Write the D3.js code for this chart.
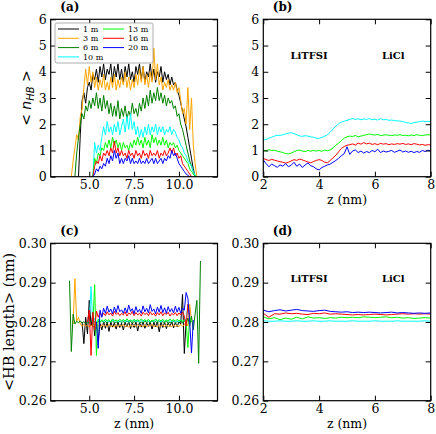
<!DOCTYPE html>
<html><head><meta charset="utf-8">
<script src="https://cdn.jsdelivr.net/npm/d3@7/dist/d3.min.js"></script>
<style>
body{margin:0;background:#fff;}
svg text{font-family:"DejaVu Serif",serif;fill:#000;}
</style></head><body>
<svg id="chart" width="436" height="434"></svg>
<script>
// ---------------- DATA ----------------
const seriesLabels = ["1 m","3 m","6 m","10 m","13 m","16 m","20 m"];
const seriesColors = ["#000000","#FFA500","#008000","#00FFFF","#00FF00","#FF0000","#0000FF"];

// Panel (a): <n_HB> vs z, grid z = 4.0 ... 11.0 step 0.1
const zGridA = d3.range(71).map(i => +(4.0 + i * 0.1).toFixed(1));
const nhb1m = [null,null,null,null,0,1.6,2.9,3.2,2.8,3.4,
  3.6,3.3,3.9,3.7,4.1,3.6,4.2,3.8,4.3,3.7,
  4.1,3.9,4.3,3.6,4.2,3.8,4.3,3.7,4.1,3.6,
  4.2,3.8,4.3,3.7,4.0,3.6,4.2,3.9,4.3,3.7,
  4.2,3.6,4.0,3.8,4.3,3.7,4.1,3.6,4.0,3.8,
  4.2,3.6,4.0,3.7,3.9,3.5,3.8,3.5,3.6,3.3,
  3.1,2.8,2.5,2.2,1.9,1.5,1.1,0.7,0.3,0,
  null];
const nhb3m = [0,0.6,1.1,1.6,1.4,2.3,2.6,3.4,4.1,3.5,
  4.2,3.6,4.0,3.4,3.8,3.3,3.7,3.4,3.9,3.3,
  3.6,3.3,3.8,3.4,3.9,3.3,3.7,3.4,3.8,3.5,
  4.0,3.4,3.8,3.3,3.7,3.4,3.9,3.5,4.1,3.6,
  4.2,3.5,3.9,3.4,4.0,3.6,4.9,3.7,4.3,3.5,
  3.8,3.3,3.6,3.4,3.7,3.3,3.5,3.3,3.6,3.2,
  3.4,2.9,2.4,2.6,2.0,3.4,1.8,3.0,1.2,0.5,
  0];
const nhb6m = [null,null,0,0.9,1.5,2.0,2.4,2.2,2.7,2.5,
  2.9,2.6,3.0,2.7,3.2,2.6,3.0,2.5,3.1,2.6,
  2.9,2.4,2.8,2.3,2.7,2.3,2.9,2.2,2.6,2.3,
  2.7,2.2,2.5,2.3,2.8,2.4,2.6,2.3,2.8,2.5,
  3.0,2.6,3.1,2.7,3.3,2.8,3.2,2.9,3.4,2.9,
  3.2,2.8,3.1,2.7,3.0,2.8,2.9,2.6,2.7,2.3,
  2.4,2.0,1.8,1.5,1.2,0.9,0.6,0.4,0.2,0.05,
  0];
const nhb10m = [null,null,null,null,null,null,null,null,null,null,
  null,null,0,1.3,0.9,1.2,1.0,1.5,1.9,1.6,
  2.1,1.7,1.9,1.6,2.0,1.7,2.1,1.6,1.9,2.2,
  1.7,2.3,1.8,2.4,1.8,2.1,1.6,1.9,1.5,1.8,
  1.5,1.9,1.6,2.0,1.6,1.9,1.7,2.0,1.6,1.9,
  1.7,1.9,1.6,1.8,1.7,1.9,1.6,1.8,1.7,1.5,
  1.4,1.2,1.1,0.9,0.8,0.6,0.5,0.4,0.2,0.05,
  0];
const nhb13m = [null,null,null,null,null,null,null,null,null,null,
  null,null,0,0.7,0.5,0.9,0.8,1.1,1.0,1.3,
  1.1,1.4,1.1,1.5,1.2,1.4,1.1,1.3,1.0,1.3,
  1.1,1.2,1.0,1.3,1.1,1.4,1.2,1.5,1.2,1.4,
  1.1,1.5,1.2,1.4,1.1,1.6,1.3,1.5,1.2,1.4,
  1.2,1.5,1.2,1.4,1.1,1.3,1.2,1.3,1.1,1.2,
  1.0,0.9,0.8,0.7,0.6,0.5,0.3,0.2,0.1,0,
  null];
const nhb16m = [null,null,null,null,null,null,null,null,null,null,
  null,null,0,0.4,0.6,0.5,0.8,0.6,0.9,0.8,
  1.0,0.8,1.1,0.9,1.35,0.9,1.1,0.8,1.0,0.8,
  0.9,0.7,1.0,0.8,0.9,0.7,1.0,0.8,0.9,0.7,
  1.0,0.8,0.9,0.7,1.0,0.8,0.9,0.8,1.0,0.7,
  0.9,0.8,1.0,0.8,0.9,1.1,0.9,1.1,0.8,0.9,
  0.7,0.8,0.5,0.4,0.3,0.2,0.1,0,null,null,
  null];
const nhb20m = [null,null,null,null,null,null,null,null,null,null,
  null,null,0,0.1,0.3,0.2,0.4,0.3,0.5,0.4,
  0.7,0.5,0.8,0.6,1.0,0.7,0.9,0.5,0.7,0.5,
  0.7,0.6,0.8,0.5,0.7,0.5,0.6,0.5,0.7,0.5,
  0.6,0.5,0.7,0.5,0.6,0.7,0.5,0.7,0.5,0.6,
  0.7,0.5,0.7,0.6,0.8,0.7,1.0,0.8,0.9,0.7,
  0.5,0.4,0.3,0.2,0.1,0.05,0,null,null,null,
  null];

// Panel (b): <n_HB> vs z, grid z = 2.0 ... 8.0 step 0.1
const zGridB = d3.range(61).map(i => +(2.0 + i * 0.1).toFixed(1));
const nhbB10m = [1.40,1.42,1.47,1.50,1.55,1.58,1.57,1.60,1.63,1.66,
  1.68,1.64,1.60,1.55,1.54,1.56,1.55,1.52,1.50,1.47,
  1.46,1.50,1.54,1.60,1.70,1.82,1.93,2.02,2.08,2.12,
  2.15,2.18,2.22,2.18,2.21,2.17,2.20,2.18,2.22,2.17,
  2.19,2.16,2.21,2.17,2.18,2.15,2.16,2.14,2.13,2.12,
  2.10,2.07,2.05,2.03,2.06,2.08,2.10,2.12,2.10,2.11,
  2.10];
const nhbB13m = [1.02,0.98,1.03,1.00,1.01,0.97,0.95,0.92,0.88,0.87,
  0.90,0.95,1.00,1.01,0.98,0.96,1.00,0.97,1.00,0.98,
  1.00,0.97,1.01,0.99,1.02,1.10,1.20,1.28,1.38,1.47,
  1.52,1.55,1.53,1.57,1.52,1.55,1.58,1.60,1.63,1.60,
  1.59,1.61,1.57,1.58,1.60,1.58,1.57,1.59,1.58,1.60,
  1.57,1.58,1.56,1.59,1.57,1.60,1.58,1.57,1.59,1.60,
  1.59];
const nhbB16m = [0.70,0.65,0.62,0.66,0.63,0.60,0.57,0.55,0.52,0.55,
  0.60,0.65,0.62,0.67,0.64,0.60,0.56,0.53,0.58,0.62,
  0.65,0.62,0.55,0.53,0.62,0.72,0.82,0.95,1.08,1.15,
  1.20,1.22,1.25,1.21,1.28,1.24,1.30,1.25,1.28,1.23,
  1.26,1.22,1.27,1.24,1.26,1.22,1.25,1.23,1.26,1.24,
  1.27,1.23,1.25,1.22,1.26,1.24,1.21,1.23,1.20,1.22,
  1.21];
const nhbB20m = [0.64,0.50,0.38,0.48,0.42,0.36,0.45,0.40,0.50,0.38,
  0.44,0.55,0.40,0.48,0.35,0.45,0.52,0.42,0.38,0.30,
  0.26,0.35,0.40,0.45,0.48,0.55,0.62,0.70,0.80,0.88,
  1.14,0.85,0.98,1.02,0.92,0.98,0.90,0.96,0.92,1.00,
  0.95,1.05,0.92,0.98,0.94,0.97,1.00,0.93,0.97,1.02,
  0.94,0.98,0.93,0.97,0.92,0.96,0.93,1.00,0.96,1.01,
  0.98];

// Panel (c): <HB length> vs z, grid z = 3.9 ... 11.2 step 0.1
const zGridC = d3.range(74).map(i => +(3.9 + i * 0.1).toFixed(1));
const hbl1m = [null,null,null,null,null,null,null,0.2800,0.2745,0.2812,
  0.2770,0.2855,0.2790,0.2822,0.2765,0.2800,0.2752,0.2796,0.2780,0.2801,
  0.2784,0.2799,0.2776,0.2800,0.2787,0.2798,0.2782,0.2800,0.2786,0.2797,
  0.2780,0.2799,0.2788,0.2801,0.2783,0.2798,0.2786,0.2800,0.2777,0.2799,
  0.2787,0.2801,0.2784,0.2798,0.2789,0.2800,0.2782,0.2799,0.2788,0.2801,
  0.2775,0.2799,0.2786,0.2800,0.2783,0.2798,0.2789,0.2801,0.2785,0.2799,
  0.2788,0.2800,0.2795,0.2870,0.2720,0.2800,null,null,null,null,
  null,null,null,null];
const hbl3m = [null,null,0.2795,0.2910,0.2802,0.2812,0.2795,0.2789,0.2794,0.2788,
  0.2793,0.2787,0.2792,0.2789,0.2794,0.2788,0.2791,0.2787,0.2793,0.2789,
  0.2792,0.2788,0.2794,0.2789,0.2791,0.2787,0.2793,0.2788,0.2792,0.2789,
  0.2794,0.2788,0.2791,0.2787,0.2793,0.2789,0.2792,0.2788,0.2794,0.2789,
  0.2791,0.2787,0.2793,0.2788,0.2792,0.2789,0.2794,0.2788,0.2791,0.2787,
  0.2793,0.2789,0.2792,0.2788,0.2794,0.2789,0.2791,0.2788,0.2793,0.2789,
  0.2792,0.2788,0.2794,0.2789,0.2793,0.2800,0.2790,0.2845,0.2805,null,
  null,null,null,null];
const hbl6m = [0.2905,0.2725,0.2820,0.2795,0.2802,0.2798,0.2803,0.2797,0.2801,0.2796,
  0.2800,0.2797,0.2803,0.2798,0.2801,0.2796,0.2802,0.2799,0.2803,0.2798,
  0.2801,0.2797,0.2802,0.2799,0.2803,0.2798,0.2800,0.2797,0.2802,0.2799,
  0.2801,0.2798,0.2803,0.2799,0.2802,0.2797,0.2801,0.2799,0.2803,0.2798,
  0.2800,0.2797,0.2802,0.2799,0.2801,0.2798,0.2803,0.2799,0.2801,0.2797,
  0.2802,0.2799,0.2801,0.2798,0.2803,0.2797,0.2800,0.2798,0.2802,0.2799,
  0.2801,0.2798,0.2803,0.2797,0.2805,0.2795,0.2810,0.2790,0.2815,0.2780,
  0.2820,0.2855,0.2695,0.2955];
const hbl10m = [null,null,null,null,null,null,null,null,null,null,
  null,0.2800,0.2890,0.2790,0.2810,0.2800,0.2806,0.2801,0.2804,0.2800,
  0.2805,0.2801,0.2803,0.2800,0.2805,0.2802,0.2804,0.2800,0.2803,0.2801,
  0.2805,0.2801,0.2803,0.2800,0.2804,0.2802,0.2805,0.2801,0.2803,0.2800,
  0.2804,0.2801,0.2805,0.2802,0.2803,0.2800,0.2804,0.2801,0.2805,0.2802,
  0.2803,0.2800,0.2804,0.2801,0.2805,0.2802,0.2803,0.2801,0.2804,0.2800,
  0.2803,0.2801,0.2805,0.2802,0.2804,0.2808,0.2845,0.2812,null,null,
  null,null,null,null];
const hbl13m = [null,null,null,null,null,null,null,null,null,null,
  null,null,null,0.2790,0.2895,0.2715,0.2808,0.2800,0.2806,0.2802,
  0.2807,0.2803,0.2806,0.2801,0.2808,0.2803,0.2805,0.2802,0.2807,0.2803,
  0.2806,0.2802,0.2808,0.2803,0.2805,0.2801,0.2807,0.2803,0.2806,0.2802,
  0.2808,0.2803,0.2806,0.2802,0.2807,0.2801,0.2805,0.2803,0.2808,0.2802,
  0.2806,0.2803,0.2807,0.2801,0.2805,0.2802,0.2808,0.2803,0.2806,0.2802,
  0.2807,0.2803,0.2805,0.2802,0.2806,0.2803,0.2735,0.2812,0.2800,null,
  null,null,null,null];
const hbl16m = [null,null,null,null,null,null,null,null,null,null,
  0.2800,0.2830,0.2715,0.2825,0.2780,0.2828,0.2812,0.2824,0.2815,0.2822,
  0.2816,0.2826,0.2818,0.2823,0.2815,0.2827,0.2819,0.2824,0.2816,0.2822,
  0.2818,0.2826,0.2815,0.2823,0.2819,0.2827,0.2816,0.2824,0.2818,0.2822,
  0.2815,0.2825,0.2819,0.2823,0.2816,0.2826,0.2818,0.2822,0.2815,0.2824,
  0.2818,0.2826,0.2816,0.2823,0.2819,0.2825,0.2815,0.2822,0.2818,0.2824,
  0.2816,0.2823,0.2818,0.2825,0.2815,0.2790,0.2845,0.2815,null,null,
  null,null,null,null];
const hbl20m = [null,null,null,null,null,null,null,null,null,null,
  null,null,null,null,null,0.2800,0.2733,0.2830,0.2812,0.2835,
  0.2822,0.2840,0.2825,0.2833,0.2821,0.2838,0.2824,0.2842,0.2826,0.2831,
  0.2822,0.2836,0.2823,0.2843,0.2827,0.2834,0.2821,0.2839,0.2825,0.2832,
  0.2822,0.2841,0.2826,0.2835,0.2823,0.2844,0.2827,0.2833,0.2821,0.2838,
  0.2825,0.2842,0.2824,0.2836,0.2822,0.2839,0.2826,0.2834,0.2823,0.2840,
  0.2825,0.2837,0.2822,0.2835,0.2830,0.2875,0.2860,0.2800,0.2721,0.2805,
  null,null,null,null];

// Panel (d): <HB length> vs z, grid z = 2.0 ... 8.0 step 0.2
const zGridD = d3.range(31).map(i => +(2.0 + i * 0.2).toFixed(1));
const hblD10m = [0.2803,0.2802,0.2802,0.2803,0.2802,0.2802,0.2803,0.2802,0.2802,0.2803,
  0.2802,0.2802,0.2803,0.2802,0.2802,0.2802,0.2803,0.2802,0.2802,0.2802,
  0.2803,0.2802,0.2802,0.2802,0.2803,0.2802,0.2802,0.2802,0.2802,0.2803,
  0.2802];
const hblD13m = [0.2813,0.2808,0.2811,0.2806,0.2810,0.2807,0.2812,0.2808,0.2813,0.2810,
  0.2811,0.2809,0.2811,0.2810,0.2812,0.2811,0.2812,0.2811,0.2813,0.2812,
  0.2811,0.2812,0.2813,0.2811,0.2812,0.2810,0.2811,0.2809,0.2810,0.2811,
  0.2810];
const hblD16m = [0.2822,0.2812,0.2821,0.2820,0.2823,0.2821,0.2822,0.2820,0.2819,0.2822,
  0.2821,0.2823,0.2820,0.2821,0.2820,0.2819,0.2818,0.2819,0.2818,0.2819,
  0.2820,0.2819,0.2818,0.2819,0.2820,0.2821,0.2820,0.2821,0.2820,0.2821,
  0.2820];
const hblD20m = [0.2830,0.2826,0.2829,0.2831,0.2828,0.2830,0.2832,0.2829,0.2828,0.2827,
  0.2829,0.2830,0.2827,0.2826,0.2825,0.2826,0.2824,0.2825,0.2824,0.2825,
  0.2824,0.2823,0.2824,0.2825,0.2823,0.2824,0.2823,0.2822,0.2823,0.2822,
  0.2823];

// tick values
const ticksXAC = [5.0, 7.5, 10.0];
const ticksXBD = [2, 4, 6, 8];
const ticksYAB = [0, 1, 2, 3, 4, 5, 6];
const ticksYCD = [0.26, 0.27, 0.28, 0.29, 0.30];

// ---------------- DRAW ----------------
const svg = d3.select("#chart");
const FS = 12.5;

function drawPanel(cfg) {
  const w = cfg.x1 - cfg.x0, h = cfg.y1 - cfg.y0;
  const g = svg.append("g").attr("transform", `translate(${cfg.x0},${cfg.y0})`);
  const x = d3.scaleLinear().domain(cfg.xDomain).range([0, w]);
  const y = d3.scaleLinear().domain(cfg.yDomain).range([h, 0]);
  const clipId = "clip-" + cfg.id;
  g.append("clipPath").attr("id", clipId).append("rect").attr("width", w).attr("height", h);
  const plot = g.append("g").attr("clip-path", `url(#${clipId})`);
  const line = d3.line().defined(d => d[1] != null).x(d => x(d[0])).y(d => y(d[1]));
  cfg.series.forEach(s => {
    plot.append("path")
      .datum(s.grid.map((z, i) => [z, s.values[i]]))
      .attr("fill", "none").attr("stroke", s.color).attr("stroke-width", 1)
      .attr("stroke-linejoin", "round")
      .attr("d", line);
  });

  const style = sel => {
    sel.select(".domain").remove();
    sel.selectAll(".tick line").attr("stroke", "#000").attr("stroke-width", 1);
    sel.selectAll("text").attr("font-size", FS).attr("font-family", "DejaVu Serif").attr("fill", "#000");
    sel.attr("font-size", null).attr("font-family", null);
  };
  g.append("g").attr("transform", `translate(0,${h})`)
    .call(d3.axisBottom(x).tickValues(cfg.xTicks).tickFormat(cfg.xFmt).tickSizeInner(-5).tickSizeOuter(0).tickPadding(3)).call(style);
  g.append("g")
    .call(d3.axisTop(x).tickValues(cfg.xTicks).tickFormat("").tickSizeInner(-5).tickSizeOuter(0)).call(style);
  g.append("g")
    .call(d3.axisLeft(y).tickValues(cfg.yTicks).tickFormat(cfg.yFmt).tickSizeInner(-5).tickSizeOuter(0).tickPadding(4)).call(style);
  g.append("g").attr("transform", `translate(${w},0)`)
    .call(d3.axisRight(y).tickValues(cfg.yTicks).tickFormat("").tickSizeInner(-5).tickSizeOuter(0)).call(style);

  g.append("rect").attr("width", w).attr("height", h).attr("fill", "none")
    .attr("stroke", "#000").attr("stroke-width", 1.2);

  // panel label
  g.append("text").attr("x", cfg.labelDx).attr("y", -8.5).attr("font-weight", "bold")
    .attr("font-size", 12).text(cfg.label);

  // x label
  g.append("text").attr("x", w / 2).attr("y", h + 27).attr("text-anchor", "middle")
    .attr("font-size", FS).text("z (nm)");

  (cfg.notes || []).forEach(n => {
    g.append("text").attr("x", x(n.z)).attr("y", y(n.v)).attr("text-anchor", "middle")
      .attr("font-weight", "bold").attr("font-size", 10).text(n.text);
  });
  return {g, x, y, w, h};
}

const fmt1 = d3.format(".1f");
const fmtD = d3.format("d");
const fmt2 = d3.format(".2f");

drawPanel({id: "a", x0: 50.7, x1: 217.5, y0: 19.3, y1: 176.7,
  xDomain: [2.85, 12.15], yDomain: [0, 6], xTicks: ticksXAC, xFmt: fmt1, yTicks: ticksYAB, yFmt: fmtD,
  label: "(a)", labelDx: 9.5,
  series: [nhb1m, nhb3m, nhb6m, nhb10m, nhb13m, nhb16m, nhb20m].map((v, i) => ({values: v, grid: zGridA, color: seriesColors[i]}))});

drawPanel({id: "b", x0: 263.3, x1: 430.7, y0: 19.3, y1: 176.7,
  xDomain: [2, 8], yDomain: [0, 6], xTicks: ticksXBD, xFmt: fmtD, yTicks: ticksYAB, yFmt: fmtD,
  label: "(b)", labelDx: 9.5,
  notes: [{text: "LiTFSI", z: 3.64, v: 4.49}, {text: "LiCl", z: 6.66, v: 4.49}],
  series: [nhbB10m, nhbB13m, nhbB16m, nhbB20m].map((v, i) => ({values: v, grid: zGridB, color: seriesColors[i + 3]}))});

drawPanel({id: "c", x0: 50.7, x1: 217.5, y0: 243.3, y1: 400.7,
  xDomain: [2.85, 12.15], yDomain: [0.26, 0.30], xTicks: ticksXAC, xFmt: fmt1, yTicks: ticksYCD, yFmt: fmt2,
  label: "(c)", labelDx: 9.5,
  series: [hbl1m, hbl3m, hbl6m, hbl10m, hbl13m, hbl16m, hbl20m].map((v, i) => ({values: v, grid: zGridC, color: seriesColors[i]}))});

drawPanel({id: "d", x0: 263.3, x1: 430.7, y0: 243.3, y1: 400.7,
  xDomain: [2, 8], yDomain: [0.26, 0.30], xTicks: ticksXBD, xFmt: fmtD, yTicks: ticksYCD, yFmt: fmt2,
  label: "(d)", labelDx: 9.5,
  notes: [{text: "LiTFSI", z: 3.64, v: 0.2902}, {text: "LiCl", z: 6.66, v: 0.2902}],
  series: [hblD10m, hblD13m, hblD16m, hblD20m].map((v, i) => ({values: v, grid: zGridD, color: seriesColors[i + 3]}))});

// y labels
const yl = svg.append("text").attr("transform", "translate(31,98) rotate(-90)")
  .attr("text-anchor", "middle").attr("font-family", "DejaVu Sans").attr("font-size", 14);
yl.append("tspan").attr("font-family", "DejaVu Sans").text("< ");
yl.append("tspan").attr("font-family", "DejaVu Sans").attr("font-style", "italic").text("n");
yl.append("tspan").attr("font-family", "DejaVu Sans").attr("font-style", "italic").attr("font-size", 10).attr("dy", 3).text("HB");
yl.append("tspan").attr("font-family", "DejaVu Sans").attr("dy", -3).text(" >");

svg.append("text").attr("transform", "translate(13.5,322) rotate(-90)")
  .attr("text-anchor", "middle").attr("font-size", 14.5).text("<HB length> (nm)");

// legend in panel (a)
const leg = svg.append("g").attr("transform", "translate(55,23)");
leg.append("rect").attr("width", 98).attr("height", 40).attr("rx", 2)
  .attr("fill", "#fff").attr("stroke", "#999").attr("stroke-width", 0.8);
seriesLabels.forEach((lab, i) => {
  const col = i < 4 ? 0 : 1, row = i < 4 ? i : i - 4;
  const lx = col === 0 ? 3 : 48, ty = 6 + row * 9.3;
  leg.append("line").attr("x1", lx).attr("x2", lx + 21).attr("y1", ty).attr("y2", ty)
    .attr("stroke", seriesColors[i]).attr("stroke-width", 1);
  leg.append("text").attr("x", lx + 25).attr("y", ty + 2.8).attr("font-size", 8).text(lab);
});
</script>
</body></html>
